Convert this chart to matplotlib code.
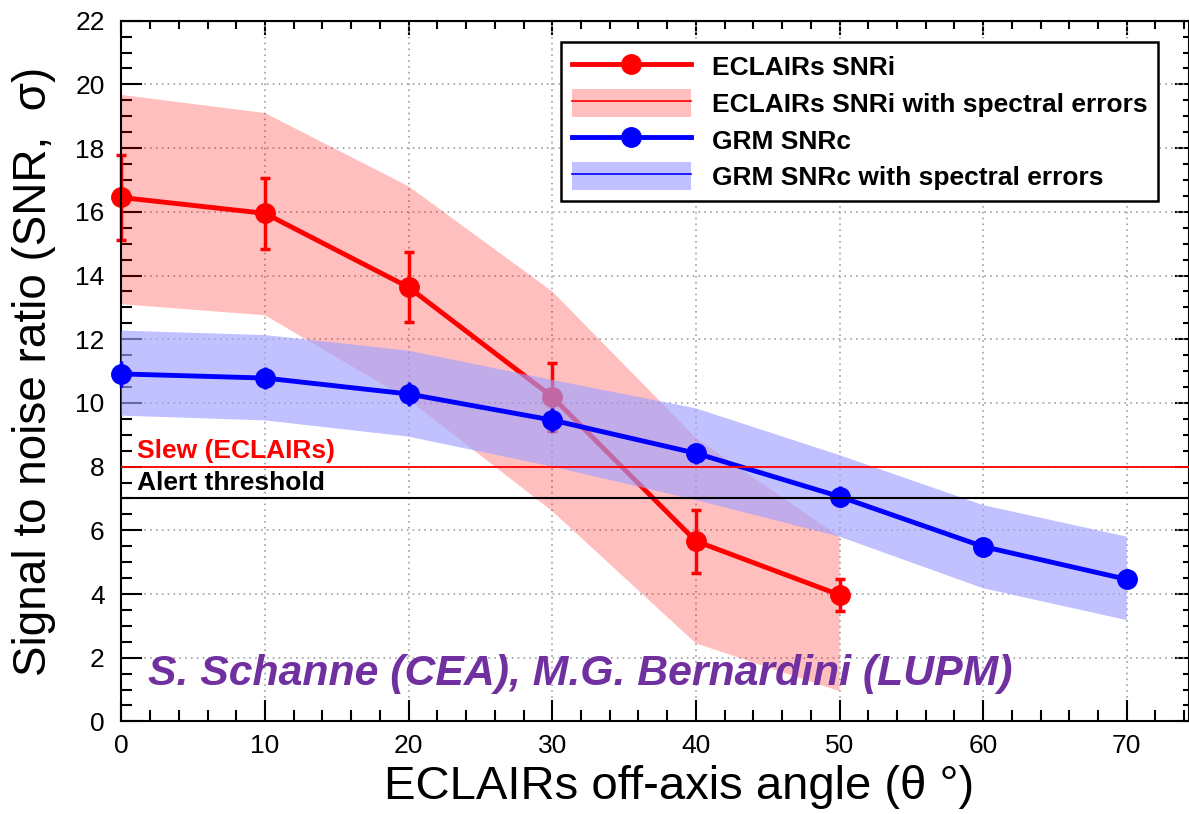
import matplotlib
matplotlib.use("Agg")
import matplotlib.pyplot as plt
from matplotlib.patches import Patch
from matplotlib.lines import Line2D
from matplotlib.ticker import MultipleLocator

# ---------------- data ----------------
angle_eclairs = [0, 10, 20, 30, 40, 50]
snr_eclairs = [16.45, 15.95, 13.63, 10.19, 5.66, 3.97]
snr_eclairs_err = [1.32, 1.12, 1.10, 1.07, 0.99, 0.51]
eclairs_band_low = [13.1, 12.75, 10.1, 6.6, 2.45, 0.95]
eclairs_band_high = [19.67, 19.1, 16.8, 13.5, 8.9, 5.8]

angle_grm = [0, 10, 20, 30, 40, 50, 60, 70]
snr_grm = [10.91, 10.78, 10.28, 9.46, 8.42, 7.06, 5.49, 4.46]
snr_grm_err = [0.40, 0.35, 0.38, 0.38, 0.33, 0.32, 0.20, 0.15]
grm_band_low = [9.6, 9.45, 8.94, 8.0, 6.95, 5.8, 4.18, 3.18]
grm_band_high = [12.27, 12.13, 11.64, 10.72, 9.83, 8.36, 6.79, 5.8]

slew_threshold = 8
alert_threshold = 7

legend_labels = ["ECLAIRs SNRi", "ECLAIRs SNRi with spectral errors",
                 "GRM SNRc", "GRM SNRc with spectral errors"]

plt.rcParams['font.family'] = ['Liberation Sans', 'DejaVu Sans']

RED_BAND = (1.0, 0.0, 0.0, 0.25)
BLUE_BAND = (0.63, 0.63, 1.0, 0.65)

fig = plt.figure(figsize=(11.89, 8.14), dpi=100)
ax = fig.add_axes([121.4 / 1189, 1 - 721.4 / 814, (1188.5 - 121.4) / 1189, (721.4 - 20.7) / 814])

# bands & lines
ax.fill_between(angle_eclairs, eclairs_band_low, eclairs_band_high,
                facecolor=RED_BAND, edgecolor='none', zorder=1)
eb1 = ax.errorbar(angle_eclairs, snr_eclairs, yerr=snr_eclairs_err, color='red',
                  lw=3.5, marker='o', ms=14, elinewidth=2.5, capsize=3.5, capthick=2.5, zorder=2)
ax.fill_between(angle_grm, grm_band_low, grm_band_high,
                facecolor=BLUE_BAND, edgecolor='none', zorder=3)
eb2 = ax.errorbar(angle_grm, snr_grm, yerr=snr_grm_err, color='blue',
                  lw=3.5, marker='o', ms=14, elinewidth=2.5, capsize=0, zorder=4)
for eb in (eb1, eb2):
    for art in eb.get_children():
        art.set_clip_on(False)

ax.axhline(slew_threshold, color='red', lw=1.3, zorder=5)
ax.axhline(alert_threshold, color='black', lw=1.5, zorder=5)
ax.text(1.1, 8.27, "Slew (ECLAIRs)", color='red', fontsize=19, fontweight='bold', va='baseline', zorder=6)
ax.text(1.1, 7.27, "Alert threshold", color='black', fontsize=19, fontweight='bold', va='baseline', zorder=6)

ax.text(1.85, 1.15, "S. Schanne (CEA), M.G. Bernardini (LUPM)", color='#7030A0',
        fontsize=30.8, fontweight='bold', fontstyle='italic', va='baseline', zorder=6)

ax.set_xlim(0, 74.3)
ax.set_ylim(0, 22)
ax.xaxis.set_major_locator(MultipleLocator(10))
ax.xaxis.set_minor_locator(MultipleLocator(2))
ax.yaxis.set_major_locator(MultipleLocator(2))
ax.yaxis.set_minor_locator(MultipleLocator(0.5))
ax.grid(True, which='major', ls=(0, (1, 2.5)), color='#a0a0a0', lw=1.2, zorder=0)
ax.set_axisbelow(True)

ax.tick_params(which='both', direction='in', top=False, right=False, labelsize=19, width=1.5)
ax.tick_params(which='major', length=15)
ax.tick_params(which='minor', length=8)
ax.tick_params(axis='y', pad=12)
ax.tick_params(axis='x', pad=9)
for s in ax.spines.values():
    s.set_linewidth(1.5)

secx = ax.secondary_xaxis('top')
secx.xaxis.set_major_locator(MultipleLocator(10))
secx.xaxis.set_minor_locator(MultipleLocator(2))
secx.tick_params(which='both', direction='in', labeltop=False, width=1.5)
secx.tick_params(which='major', length=10)
secx.tick_params(which='minor', length=6)
secy = ax.secondary_yaxis('right')
secy.yaxis.set_major_locator(MultipleLocator(2))
secy.yaxis.set_minor_locator(MultipleLocator(0.5))
secy.tick_params(which='both', direction='in', labelright=False, width=1.5)
secy.tick_params(which='major', length=10)
secy.tick_params(which='minor', length=4)

ax.set_xlabel("ECLAIRs off-axis angle (θ °)", fontsize=34, labelpad=8)
ax.xaxis.set_label_coords((679 - 121.4) / 1067.1, -0.062)
ax.set_ylabel("Signal to noise ratio (SNR,  σ)", fontsize=33, labelpad=14)

handles = [
    Line2D([], [], color='red', lw=3.5, marker='o', ms=14),
    (Patch(facecolor=RED_BAND, edgecolor='none'), Line2D([], [], color='red', lw=1.2)),
    Line2D([], [], color='blue', lw=3.5, marker='o', ms=14),
    (Patch(facecolor=BLUE_BAND, edgecolor='none'), Line2D([], [], color='blue', lw=1.2)),
]
leg = ax.legend(handles, legend_labels, loc='upper right',
                bbox_to_anchor=((1158 - 121.4) / 1067.1, (721.4 - 42) / 700.7),
                borderaxespad=0, prop={'weight': 'bold', 'size': 19},
                handlelength=4.5, handleheight=1.25, handletextpad=0.8,
                labelspacing=0.33, borderpad=0.4, fancybox=False,
                edgecolor='black', framealpha=1)
leg.get_frame().set_linewidth(1.8)
leg.set_zorder(10)

fig.savefig("out.png", dpi=100, facecolor='white')
